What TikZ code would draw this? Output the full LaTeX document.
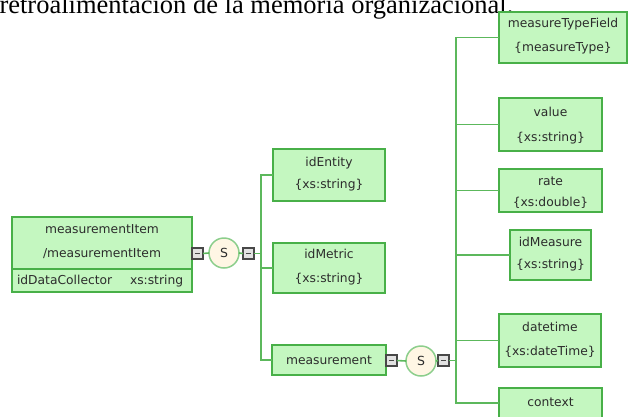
\documentclass[tikz,border=0pt]{standalone}
\usepackage{fontspec}
\setmainfont{Liberation Serif}
\newfontfamily\diagfont{DejaVu Sans}
\begin{document}
\begin{tikzpicture}[x=1pt,y=-1pt,
  every node/.style={inner sep=0pt, outer sep=0pt},
  elem/.style={draw=elemborder, fill=elemfill, line width=1.6pt, rectangle},
  lbl/.style={font=\diagfont\fontsize{12.3}{13}\selectfont, text=txtgray, anchor=base},
  conn/.style={draw=linegreen, line width=1.6pt},
  collapse/.style={draw=boxgray, fill=lightgray!45, line width=1.4pt, minimum size=11pt,
    path picture={\draw[boxgray, line width=1.1pt]
      ([xshift=2.8pt]path picture bounding box.west) -- ([xshift=-2.8pt]path picture bounding box.east);}},
  seqmark/.style={circle, draw=circgreen, fill=circfill, line width=1.5pt, minimum size=30pt,
    font=\diagfont\fontsize{12.5}{13}\selectfont, text=txtgray},
]
\definecolor{elemfill}{RGB}{196,247,192}
\definecolor{elemborder}{RGB}{72,176,72}
\definecolor{linegreen}{RGB}{92,184,92}
\definecolor{txtgray}{RGB}{44,44,44}
\definecolor{boxgray}{RGB}{72,72,72}
\definecolor{circgreen}{RGB}{140,206,140}
\definecolor{circfill}{RGB}{255,246,228}

\useasboundingbox (0,0) rectangle (631,416);
\begin{scope}
\clip (0,0) rectangle (631,416);

% running text above the diagram
\node[anchor=base west, font=\fontsize{26.5}{28}\selectfont] (caption) at (-0.5,13.5)
  {retroalimentación de la memoria organizacional.};

% root element
\node[elem, minimum width=180pt, minimum height=75pt] (item) at (102,254.5) {};
\draw[elemborder, line width=1.3pt] (12,269) -- (192,269);
\node[lbl] at (102,233.5) {measurementItem};
\node[lbl] at (102,257.5) {/measurementItem};
\node[lbl, anchor=base west] at (17,284.5) {idDataCollector};
\node[lbl, anchor=base west] at (130,284.5) {xs:string};

\node[collapse] (c1) at (197.5,253.5) {};
\node[seqmark] (s1) at (224,253) {S};
\node[collapse] (c2) at (248.5,253.5) {};
\coordinate (bus1) at (261,0);

% children of the root sequence
\node[elem, minimum width=112pt, minimum height=52pt] (identity) at (329,175) {};
\node[lbl] at (329,166) {idEntity};
\node[lbl] at (329,188) {\{xs:string\}};

\node[elem, minimum width=112pt, minimum height=50pt] (idmetric) at (329,268) {};
\node[lbl] at (329,258.5) {idMetric};
\node[lbl] at (329,282.5) {\{xs:string\}};

\node[elem, minimum width=114pt, minimum height=30pt] (meas) at (329,360) {};
\node[lbl] at (329,364.5) {measurement};

\node[collapse] (c3) at (391.5,360.5) {};
\node[seqmark] (s2) at (421,361) {S};
\node[collapse] (c4) at (443.5,360.5) {};
\coordinate (bus2) at (456,0);

% children of measurement
\node[elem, minimum width=128pt, minimum height=51pt] (mtf) at (563,37.5) {};
\node[lbl] at (563,27.5) {measureTypeField};
\node[lbl] at (563,51.5) {\{measureType\}};

\node[elem, minimum width=103pt, minimum height=53pt] (value) at (550.5,124.5) {};
\node[lbl] at (550.5,116.5) {value};
\node[lbl] at (550.5,141.5) {\{xs:string\}};

\node[elem, minimum width=103pt, minimum height=43pt] (rate) at (550.5,190.5) {};
\node[lbl] at (550.5,185.5) {rate};
\node[lbl] at (550.5,206.5) {\{xs:double\}};

\node[elem, minimum width=81pt, minimum height=50pt] (idmeas) at (550.5,255) {};
\node[lbl] at (550.5,246.5) {idMeasure};
\node[lbl] at (550.5,268.5) {\{xs:string\}};

\node[elem, minimum width=102pt, minimum height=53pt] (dt) at (550,340.5) {};
\node[lbl] at (550,331.5) {datetime};
\node[lbl] at (550,355.5) {\{xs:dateTime\}};

\node[elem, minimum width=103pt, minimum height=30pt] (ctx) at (550.5,403) {};
\node[lbl] at (550.5,406.5) {context};

% connectors
\draw[conn] (c1.east) -- (s1.west);
\draw[conn] (s1.east) -- (c2.west);
\draw[conn] (c2.east) -- (bus1 |- c2.east);
\draw[conn] (identity.west) -- (bus1 |- identity.west) -- (bus1 |- meas.west) -- (meas.west);
\draw[conn] (bus1 |- idmetric.west) -- (idmetric.west);

\draw[conn] (c3.east) -- (s2.west);
\draw[conn] (s2.east) -- (c4.west);
\draw[conn] (c4.east) -- (bus2 |- c4.east);
\draw[conn] (mtf.west) -- (bus2 |- mtf.west) -- (bus2 |- ctx.west) -- (ctx.west);
\draw[conn] (bus2 |- value.west) -- (value.west);
\draw[conn] (bus2 |- rate.west) -- (rate.west);
\draw[conn] (bus2 |- idmeas.west) -- (idmeas.west);
\draw[conn] (bus2 |- dt.west) -- (dt.west);
\end{scope}
\end{tikzpicture}
\end{document}
